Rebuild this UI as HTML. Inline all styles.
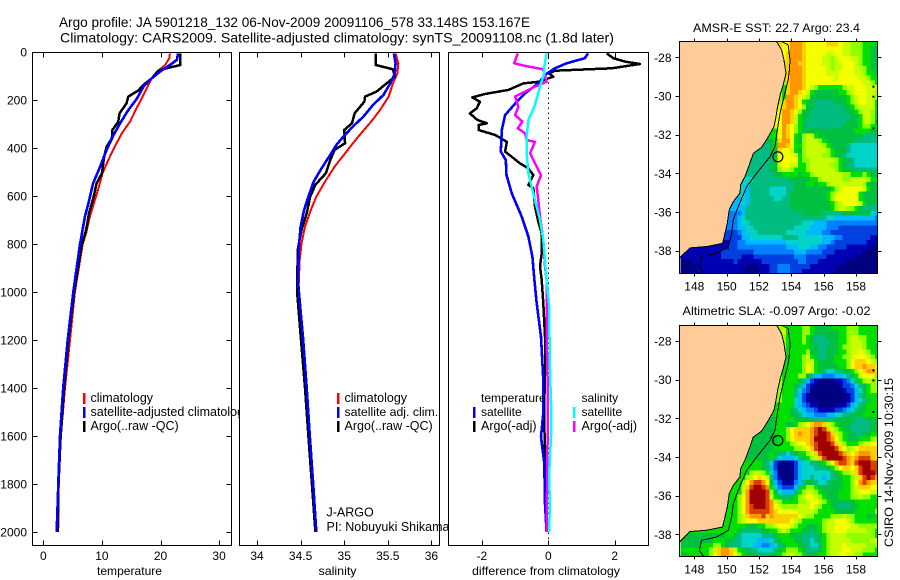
<!DOCTYPE html>
<html lang="en">
<head>
<meta charset="utf-8">
<title>Argo profile</title>
<style>
html,body{margin:0;padding:0;background:#fff;}
#chart{display:block;width:900px;height:580px;font-family:"Liberation Sans",sans-serif;}
text{fill:#000;font-size:12px;}
</style>
</head>
<body>
<svg id="chart" xmlns="http://www.w3.org/2000/svg" width="900" height="580" viewBox="0 0 900 580"></svg>
<script>
/* ---------- profile data ---------- */
const depthTicks = [0,200,400,600,800,1000,1200,1400,1600,1800,2000];
const tempTicks = [0,10,20,30];
const salTicks = [34,34.5,35,35.5,36];
const diffTicks = [-2,0,2];

const tempClimDepth = [6,26,54,78,110,138,179,235,290,339,394,450,506,569,617,686,756,800,1000,1200,1400,1600,1800,2000];
const tempClim = [21.6,21.5,20.8,19.6,18.5,17.9,17.1,15.9,14.8,13.4,12.2,11.1,10.1,9.4,8.8,7.96,7.3,6.72,5.4,4.55,3.7,3.0,2.65,2.55];
const tempSatDepth = [6,33,54,82,110,144,193,242,297,346,408,478,547,631,686,769,800,1000,1200,1400,1600,1800,2000];
const tempSat = [23.0,22.8,21.6,19.9,18.5,17.1,16,14.5,13.1,12,10.8,9.7,8.5,7.7,7.1,6.5,6.27,5.12,4.17,3.4,2.85,2.56,2.29];
const tempArgoDepth = [6,54,68,78,110,131,161,186,214,256,290,325,360,394,436,506,547,603,672,742,800,1000,1200,1400,1600,1800,2000];
const tempArgo = [23.4,23.4,21,19.6,18.5,17.4,16.2,14.5,14.2,13,12.8,11.8,11.7,10.8,10.4,10,9.1,8.6,7.8,7.3,6.6,5.25,4.3,3.55,2.95,2.6,2.45];

const salClimDepth = [6,47,89,130,186,242,290,353,422,478,540,603,665,728,797,867,950,1000,1200,1400,1600,1800,2000];
const salClim = [35.59,35.62,35.61,35.56,35.51,35.41,35.31,35.16,35.01,34.89,34.78,34.68,34.61,34.55,34.51,34.49,34.48,34.475,34.515,34.56,34.6,34.64,34.675];
const salSatDepth = [6,47,89,130,179,221,269,311,353,387,429,485,540,603,658,728,811,950,1000,1200,1400,1600,1800,2000];
const salSat = [35.57,35.59,35.58,35.53,35.45,35.33,35.22,35.1,34.99,34.91,34.84,34.74,34.65,34.59,34.54,34.5,34.48,34.47,34.48,34.53,34.57,34.605,34.645,34.68];
const salArgoDepth = [6,54,72,103,130,165,186,207,255,297,325,380,408,450,505,553,603,672,742,818,950,1000,1200,1400,1600,1800,2000];
const salArgo = [35.36,35.36,35.56,35.58,35.49,35.37,35.24,35.23,35.12,35.09,35.0,35.01,34.89,34.84,34.79,34.67,34.61,34.57,34.51,34.47,34.46,34.46,34.505,34.55,34.59,34.63,34.67];

const dTempArgoDepth = [6,26,40,50,68,78,89,103,124,131,158,175,189,207,235,256,283,297,304,325,346,374,415,464,485,513,554,568,644,707,756,839,894,950,1047,1186,1325,1464,1880,2000];
const dTempArgo = [1.76,1.96,2.31,2.76,1.91,0.2,0.02,0.15,-0.3,-0.75,-1.2,-1.91,-2.29,-2.06,-2.16,-2.36,-2.14,-1.85,-2.1,-2.1,-1.6,-1.25,-1.3,-0.85,-0.6,-0.45,-0.6,-0.45,-0.4,-0.3,-0.2,-0.2,-0.25,-0.2,-0.15,-0.1,-0.1,-0.12,-0.1,-0.05];
const dTempSatDepth = [6,26,47,68,96,131,172,207,263,325,415,450,513,589,686,769,853,950,1047,1186,1367,1505,1603,1714,1880,2000];
const dTempSat = [1.2,1.1,0.55,0.2,-0.1,-0.3,-0.7,-0.95,-1.3,-1.4,-1.43,-1.28,-1.26,-1.1,-0.8,-0.6,-0.48,-0.42,-0.35,-0.22,-0.15,-0.15,-0.22,-0.12,-0.1,-0.05];
const dSalArgoDepth = [6,47,58,72,124,144,186,228,263,290,318,339,367,374,422,464,513,561,617,686,783,894,950,1186,1367,1603,2000];
const dSalArgo = [-0.92,-1.03,-0.7,-0.15,-0.05,-0.4,-1,-0.9,-1,-0.78,-0.92,-0.7,-0.65,-0.4,-0.55,-0.4,-0.22,-0.35,-0.3,-0.25,-0.15,-0.1,-0.05,-0.05,-0.02,-0.02,-0.05];
const dSalSatDepth = [6,61,89,144,228,283,353,422,506,617,700,783,950,1047,1325,1464,1603,1770,1880,2000];
const dSalSat = [-0.05,-0.12,-0.12,-0.25,-0.42,-0.6,-0.65,-0.65,-0.6,-0.4,-0.25,-0.15,-0.05,0.02,0.05,0.08,0.08,0.02,0.05,0.02];

/* ---------- map data ---------- */
const mapLonTicks = [148,150,152,154,156,158];
const mapLatTicks = [-28,-30,-32,-34,-36,-38];
const coastLon = [153.09,153.4,153.55,153.67,153.5,153.34,153.15,153.05,152.93,152.52,152.16,151.65,151.4,151.13,150.87,150.82,150.41,150.16,150.04,149.9,149.75,148.76,147.73,147.07];
const coastLat = [-27.19,-27.62,-28.14,-28.83,-29.43,-29.86,-30.55,-31.07,-31.59,-32.19,-32.66,-32.97,-33.57,-34.17,-34.6,-35.03,-35.47,-35.9,-36.59,-37.1,-37.62,-37.79,-37.86,-38.4];
const isobathLon = [153.4,153.81,153.92,153.88,153.81,153.5,153.3,153.13,152.99,152.68,151.86,151.24,150.72,150.41,150.31,150.1,149.38,148.45,148.31,148.6];
const isobathLat = [-27.19,-27.36,-28.14,-28.66,-29.17,-30.21,-30.9,-31.76,-32.62,-33.14,-34.0,-34.69,-35.72,-36.41,-37.1,-37.79,-38.14,-38.31,-38.83,-39.17];
const islandLon = [159.08,159.08,159.08];
const islandLat = [-29.52,-30.04,-31.67];
const profileLon = 153.167;
const profileLat = -33.148;

/* colour class per 0.25 degree cell: 0 navy ... f dark red, '.' under the land mask */
const sstRows = [
"........................cbbdddcbbbbbcccbaa9998887",
"........................cbbdddcbbbbbbbbbaa9998877",
"........................bbcdddcbbbbbaabbaa9998877",
"........................bbcdddcbbbbaa9abbbaa98877",
"........................bacddccbbbbaa9aabbba98877",
"........................aacdddcbbbbba9aabbbaa9877",
"........................aacdddcbbbbbaaabbbbaa9887",
"........................a9cdddcbbbbbbbabbbbbaa988",
"........................99cdddcbbbbbbbbbbbbbbaa98",
"........................98cdddcba98888889aabbbaaa",
"........................98cddcba8777777889abbbaa9",
"........................98ddcba977777777789abbaa9",
"........................9cddcb8776666677789abbaa8",
"........................acddcb9776666666778 9aaaa8",
"........................bddcb9776666666667789aa98",
"........................bddca8776666666666778aa98",
"........................bddca876666666666777 8aa97",
"........................bdcb987666666666777789988",
".......................8bdcb98777777777777788887 7",
".......................8bdcb8 79aa87777777777 76666",
"......................78cddb879aaa987777777666666",
".....................678ddcb889aaaa98777765555555",
"....................6677cbba879aaaaa9877765555555",
"...................66667bbbba89aaaa99877655555555",
"..................666667bbbbb899aaaaaa9877655555",
".................6666677abbaa889aaaaa99876655555",
".................66666779aa98889aaaaaa9877766666",
"................6666666778888788 9aaaaaaa99888987",
"................5566666666677777889aaaaa99aaaa98",
"...............5566666666666777887889aaaaaaaa97",
"...............546666655556677777777789abbbbba87",
"...............54666665555677777777789abbbbb87",
"..............454666666556677777777789bbbbbb87",
"..............4546666666666777777777789abbbba87",
".............44466666666666777777777789aa99876",
"............33346666666666666677777666 66777777754",
"............33456666666666666666666655444444444 43",
"............33455666666666666655 5444333333333333",
"............33445566666666665555444433322222222222",
"............22345556666666555554444332222222222222",
"...........2222445555555566665555554443322222221111",
"...........1223344444444445555555554432222222211111",
"..........11223333333333334445554433222221111110 0",
"...1111111222222223333333333444333322211111110000",
".1111111112222211122222222223332222211111110000",
"00011111111112111111222222222 33222111111100000000",
"0000111111111111000111223332222211111110000000000",
"0000111111111110000 0112233322211111111000000000"
];
const slaRows = [
"........................9a8888998777788889998888",
"........................9a8888998777777889998888",
"........................a98888987666777889aa99888",
"........................a98888987666677889aaa9888",
"........................998888887766777899aaa9887",
"........................998888897766777889aaba988",
"........................9988889a8766778899abbba98",
"........................9888889aa877778889bcccba9",
"........................9888889ba877777889bccdcca",
"........................9888889ba8765566778 9bcddca",
"........................98888997644333445678abbb9",
"........................9888876421000011235689a9",
"........................988876421000000122356789",
"........................988865320000000012245789",
"........................988864210000000001246788",
"........................988854210000000001245678",
"........................888854321100000112456788",
"........................888765433211112234567788",
".......................8888776544333445566777888",
".......................78888777766666677777666777",
"......................78887789abcddca98777666667",
".....................778889bccccdefeca9877666667",
"....................7778889bcdccdeffeca987766778",
"...................77777889bccccdfffedb987778889",
"..................7777778889abbcdefffeca98889aab",
".................7777778888899abceffffecb9abcccc",
".................777778766567889aceffffedcbcdddc",
"................77777786544456789aceffffedcdeeec",
"................88887652100124556678 9bdeedcefffe",
"...............88888774200002455566678 9bccbceffe",
"...............889aa9853000024555555567899acefffe",
"...............89abcba631000245565545677889acefed",
"..............89bdeedb7421013467765567778 89bdedc",
"..............8aceffed85322246899877777788 9acccb",
".............88adffffe975444689aa9877778889abbba",
"............889bdffffea8766789abba9877788899a998",
"............889bdffffeda9888899abba98777777888888",
"............889bdefffedba9999aaaba988776667788888",
"............889bdeeeeedcbbbbbaaaa9888877777888889",
"............889acdddecdccccccba998888999a99888778",
"...........8889abbbccccccccba9888889aabbba988888",
"...........88888777889 9abbba98877789aabbbbaa99999",
"..........888876666677889a9888776789aabbbaaaaa998",
"...77777777887655555666788877766667 89aaaa99999998",
".77777778887766555544 4567888776656789aaaaa99999aa",
".777788899876665554433456788877655689aaabaaaaa999",
"88888889acddca87766555567899987666789aaabbaaa9998",
"77888889bcddcb9877766677 89aa998777889aabbaa998888"
];
const classColors = {
  "0":"#000080","1":"#0000b4","2":"#0040e0","3":"#0080ff","4":"#00b8ff","5":"#00d4c8",
  "6":"#00bc80","7":"#00c040","8":"#00e000","9":"#90ff00","a":"#c8ff00","b":"#f4ff00",
  "c":"#ffd000","d":"#ff9800","e":"#d84000","f":"#a00000"
};
const LAND = "#ffcc99";

/* ---------- svg helpers ---------- */
const svg = document.getElementById('chart');
const NS = 'http://www.w3.org/2000/svg';
function make(tag, attrs, parent){
  const n = document.createElementNS(NS, tag);
  for (const k in attrs) n.setAttribute(k, attrs[k]);
  (parent || svg).appendChild(n);
  return n;
}
function label(str, x, y, anchor, size, len, parent){
  const a = {x:x, y:y, 'text-anchor':anchor||'start'};
  if (size) a['style'] = 'font-size:'+size+'px';
  if (len) { a.textLength = len; a.lengthAdjust = 'spacingAndGlyphs'; }
  const t = make('text', a, parent);
  t.textContent = str;
  return t;
}

/* ---------- axis functions ---------- */
const TOP = 52.5, BOTTOM = 545.5;
const depthY = d => 52 + 0.24 * d;
const tempX = v => 43.3 + 5.86 * v;
const salX = v => 257 + 87.2 * (v - 34);
const diffX = v => 548.3 + 33.2 * v;

function panel(name, left, right, xTicks, xFn, xLabel, xTitle, titleX, showY){
  const g = make('g', {});
  
  
  make('rect', {x:left, y:TOP, width:right-left, height:BOTTOM-TOP, fill:'#fff', stroke:'none'}, g);
  return {g, left, right, xTicks, xFn, xLabel, xTitle, titleX, showY};
}
function finishPanel(p){
  const box = make('rect', {x:p.left, y:TOP, width:p.right-p.left, height:BOTTOM-TOP, fill:'none', stroke:'#000', 'stroke-width':1, 'shape-rendering':'crispEdges'}, p.g);
  
  
  p.xTicks.forEach(v => {
    const x = Math.round(p.xFn(v)) + 0.5;
    const t1 = make('line', {x1:x, x2:x, y1:TOP, y2:TOP+5, stroke:'#000', 'shape-rendering':'crispEdges'}, p.g);
    
    
    const t2 = make('line', {x1:x, x2:x, y1:BOTTOM, y2:BOTTOM-5, stroke:'#000', 'shape-rendering':'crispEdges'}, p.g);
    
    
    const lab = label(String(v), p.xFn(v), 560, 'middle', 12, 0, p.g);
    
    
  });
  const ti = label(p.xLabel, p.titleX, 575, 'middle', 12, p.xTitle, p.g);
  
  
  if (p.showY) depthTicks.forEach(d => {
    const y = Math.round(depthY(d)) + 0.5;
    const a = make('line', {x1:p.left, x2:p.left+5, y1:y, y2:y, stroke:'#000', 'shape-rendering':'crispEdges'}, p.g);
    
    
    const b = make('line', {x1:p.right, x2:p.right-5, y1:y, y2:y, stroke:'#000', 'shape-rendering':'crispEdges'}, p.g);
    
    
    const lab = label(String(d), 27, depthY(d)+4.5, 'end', 12, 0, p.g);
    
    
  });
}
function series(p, name, depths, vals, color, width){
  const pts = depths.map((d,i) => p.xFn(vals[i]).toFixed(1) + ',' + depthY(d).toFixed(1)).join(' ');
  const l = make('polyline', {points:pts, fill:'none', stroke:color, 'stroke-width':width, 'stroke-linejoin':'round', 'shape-rendering':'crispEdges'}, p.g);
  
  
}
function legendEntry(p, name, swX, txtX, base, color, str, size){
  const g = make('g', {}, p.g);
  
  
  if (color) make('rect', {x:swX, y:base-9, width:2.5, height:11, fill:color}, g);
  label(str, txtX, base, 'start', size || 12.5, 0, g);
}

/* ---------- titles ---------- */
const t1 = label('Argo profile: JA 5901218_132 06-Nov-2009 20091106_578 33.148S 153.167E', 59, 27, 'start', 14, 471);


const t2 = label('Climatology: CARS2009. Satellite-adjusted climatology: synTS_20091108.nc (1.8d later)', 60, 42.5, 'start', 14, 554);



/* ---------- temperature panel ---------- */
const p1 = panel('temperature-panel', 32.5, 231.5, tempTicks, tempX, 'temperature', 65, 129.5, true);
series(p1, 'temperature-climatology-line', tempClimDepth, tempClim, '#ff0000', 2);
series(p1, 'temperature-argo-line', tempArgoDepth, tempArgo, '#000000', 2.5);
series(p1, 'temperature-satellite-line', tempSatDepth, tempSat, '#0000ff', 2.6);
legendEntry(p1, 'legend-climatology', 83, 90.5, 402, '#ff0000', 'climatology');
legendEntry(p1, 'legend-satellite-adjusted-climatology', 83, 90.5, 416, '#0000ff', 'satellite-adjusted climatology');
legendEntry(p1, 'legend-argo-raw', 83, 90.5, 430, '#000000', 'Argo(..raw -QC)');
finishPanel(p1);

/* ---------- salinity panel ---------- */
const p2 = panel('salinity-panel', 239.5, 439.5, salTicks, salX, 'salinity', 38, 337.5, false);
series(p2, 'salinity-climatology-line', salClimDepth, salClim, '#ff0000', 2);
series(p2, 'salinity-argo-line', salArgoDepth, salArgo, '#000000', 2.5);
series(p2, 'salinity-satellite-line', salSatDepth, salSat, '#0000ff', 2.6);
legendEntry(p2, 'legend-climatology', 337, 344.5, 402, '#ff0000', 'climatology');
legendEntry(p2, 'legend-satellite-adj-clim', 337, 344.5, 416, '#0000ff', 'satellite adj. clim.', 12.3);
legendEntry(p2, 'legend-argo-raw', 337, 344.5, 430, '#000000', 'Argo(..raw -QC)');
const ja = label('J-ARGO', 326.5, 516.5, 'start', 12.5, 0, p2.g);


const pi = label('PI: Nobuyuki Shikama', 326.5, 531, 'start', 12.5, 0, p2.g);


finishPanel(p2);

/* ---------- difference panel ---------- */
const p3 = panel('difference-panel', 448.5, 648.5, diffTicks, diffX, 'difference from climatology', 148, 546, false);
const zero = make('line', {x1:diffX(0), x2:diffX(0), y1:TOP, y2:BOTTOM, stroke:'#000', 'stroke-dasharray':'1.5 3.5', 'shape-rendering':'crispEdges'}, p3.g);


series(p3, 'difference-temperature-argo-line', dTempArgoDepth, dTempArgo, '#000000', 2.5);
series(p3, 'difference-temperature-satellite-line', dTempSatDepth, dTempSat, '#0000ff', 2.6);
series(p3, 'difference-salinity-argo-line', dSalArgoDepth, dSalArgo, '#ff00ff', 2.5);
series(p3, 'difference-salinity-satellite-line', dSalSatDepth, dSalSat, '#00ffff', 2.5);
legendEntry(p3, 'legend-temperature-heading', 473, 481, 402, null, 'temperature', 12);
legendEntry(p3, 'legend-temperature-satellite', 473, 481, 416, '#0000ff', 'satellite', 12);
legendEntry(p3, 'legend-temperature-argo', 473, 481, 430, '#000000', 'Argo(-adj)');
legendEntry(p3, 'legend-salinity-heading', 573, 581.5, 402, null, 'salinity', 12);
legendEntry(p3, 'legend-salinity-satellite', 573, 581.5, 416, '#00ffff', 'satellite', 12);
legendEntry(p3, 'legend-salinity-argo', 573, 581.5, 430, '#ff00ff', 'Argo(-adj)');
finishPanel(p3);

/* ---------- maps ---------- */
const MAP_L = 679.5, MAP_R = 877.5;
const lonX = lon => 694.3 + 16.17 * (lon - 148);
function drawMap(cfg){
  const latY = lat => cfg.y28 + 19.33 * (-28 - lat);
  const g = make('g', {});
  
  
  const clip = make('clipPath', {id:cfg.name + '-clip'}, g);
  make('rect', {x:MAP_L, y:cfg.top, width:MAP_R-MAP_L, height:cfg.bottom-cfg.top}, clip);
  const inner = make('g', {'clip-path':'url(#' + cfg.name + '-clip)'}, g);
  cfg.rows.forEach((row, r) => {
    const clean = row.replace(/ /g, '');
    const firstSea = clean.replace(/\./g, '')[0];
    for (let c = 0; c < 49; c++) {
      let ch = c < clean.length ? clean[c] : clean[clean.length-1];
      if (ch === '.') ch = firstSea;
      const lon = 147.16 + 0.25 * c;
      const lat = -27.19 - 0.25 * r;
      const cell = make('rect', {x:lonX(lon).toFixed(2), y:latY(lat).toFixed(2), width:4.5, height:5.3, fill:classColors[ch], 'shape-rendering':'crispEdges'}, inner);
      
      
    }
  });
  const coastPts = coastLon.map((lo,i) => lonX(lo).toFixed(1)+','+latY(coastLat[i]).toFixed(1)).join(' ');
  const land = make('polygon', {points:lonX(147.0)+','+latY(-27.1)+' '+coastPts, fill:LAND, stroke:'none'}, inner);
  
  
  const coast = make('polyline', {points:coastPts, fill:'none', stroke:'#000', 'stroke-width':1, 'shape-rendering':'crispEdges'}, inner);
  
  
  const iso = make('polyline', {points:isobathLon.map((lo,i) => lonX(lo).toFixed(1)+','+latY(isobathLat[i]).toFixed(1)).join(' '), fill:'none', stroke:'#000', 'stroke-width':1, 'shape-rendering':'crispEdges'}, inner);
  
  
  islandLon.forEach((lo, i) => {
    const dot = make('rect', {x:lonX(lo)-1, y:latY(islandLat[i])-1, width:2, height:2, fill:'#000'}, inner);
    
    
  });
  const marker = make('circle', {cx:lonX(profileLon), cy:latY(profileLat), r:5, fill:'none', stroke:'#000', 'stroke-width':1.2}, inner);
  
  
  const frame = make('rect', {x:MAP_L, y:cfg.top, width:MAP_R-MAP_L, height:cfg.bottom-cfg.top, fill:'none', stroke:'#000', 'shape-rendering':'crispEdges'}, g);
  
  
  mapLonTicks.forEach(lon => {
    const x = Math.round(lonX(lon)) + 0.5;
    const a = make('line', {x1:x, x2:x, y1:cfg.top, y2:cfg.top-3, stroke:'#000', 'shape-rendering':'crispEdges'}, g);
    
    
    const b = make('line', {x1:x, x2:x, y1:cfg.bottom, y2:cfg.bottom+3, stroke:'#000', 'shape-rendering':'crispEdges'}, g);
    
    
    const l = label(String(lon), lonX(lon), cfg.labelY, 'middle', 12, 0, g);
    
    
  });
  mapLatTicks.forEach(lat => {
    const y = Math.round(latY(lat)) + 0.5;
    const a = make('line', {x1:MAP_L, x2:MAP_L-4, y1:y, y2:y, stroke:'#000', 'shape-rendering':'crispEdges'}, g);
    
    
    const b = make('line', {x1:MAP_R, x2:MAP_R+4, y1:y, y2:y, stroke:'#000', 'shape-rendering':'crispEdges'}, g);
    
    
    const l = label(String(lat), 671.5, latY(lat)+4.5, 'end', 12, 0, g);
    
    
  });
  const ti = label(cfg.title, cfg.titleX, cfg.titleY, 'start', 12, cfg.titleLen, g);
  
  
}
drawMap({name:'sst-map', rows:sstRows, y28:57.3, top:41.5, bottom:273.5, labelY:290.5, title:'AMSR-E SST: 22.7 Argo: 23.4', titleX:693, titleY:32, titleLen:167});
drawMap({name:'sla-map', rows:slaRows, y28:341, top:325.5, bottom:556.5, labelY:573.5, title:'Altimetric SLA: -0.097 Argo: -0.02', titleX:682.5, titleY:315, titleLen:188});

const stamp = label('CSIRO 14-Nov-2009 10:30:15', 0, 0, 'start', 12, 169);
stamp.setAttribute('transform', 'translate(893 547) rotate(-90)');


</script>
</body>
</html>
